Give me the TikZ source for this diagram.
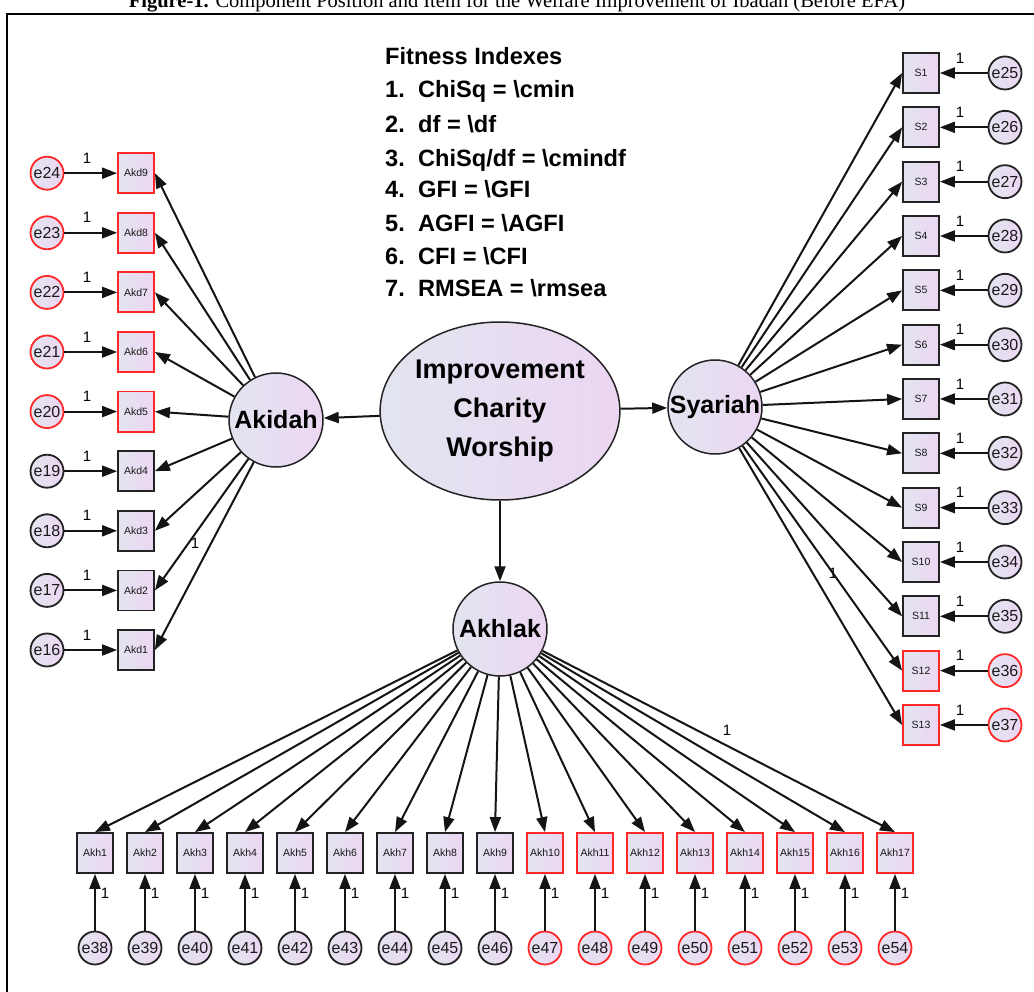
\documentclass[tikz,border=0pt]{standalone}
\usepackage{fontspec}
\setmainfont{Liberation Sans}
\newfontfamily\capfont{Liberation Serif}
\usetikzlibrary{arrows.meta,shapes.geometric}
\definecolor{gA}{RGB}{226,229,240}
\definecolor{gB}{RGB}{236,214,242}
\definecolor{edgeK}{RGB}{35,35,35}
\definecolor{edgeR}{RGB}{255,40,40}
\tikzset{
  grad/.style={left color=gA, right color=gB},
  obs/.style={rectangle, draw=edgeK, line width=1.8pt, grad, minimum width=36pt,
    minimum height=40pt, inner sep=0pt, text=black!90,
    font=\fontsize{10.5}{10.5}\selectfont},
  err/.style={circle, draw=edgeK, line width=1.8pt, grad, minimum size=33pt,
    inner sep=0pt, text=black!90, font=\fontsize{16}{16}\selectfont},
  lat/.style={circle, draw=edgeK, line width=1.5pt, grad, minimum size=94pt,
    inner sep=0pt, font=\bfseries\fontsize{25}{25}\selectfont},
  arr/.style={line width=2pt, draw=black!92, -{Triangle[length=15pt,width=11pt]}},
  one/.style={font=\fontsize{15}{15}\selectfont, inner sep=0pt},
  idx/.style={anchor=base west, inner sep=0pt, font=\bfseries\fontsize{23.6}{24}\selectfont}
}
\begin{document}
\begin{tikzpicture}[x=1pt,y=-1pt]
\useasboundingbox (0,0) rectangle (1034,992);
\fill[white] (0,0) rectangle (1034,992);

% caption and frame
\node[anchor=base, inner sep=0pt, font=\capfont\fontsize{20.5}{20.5}\selectfont] (cap) at (517,8)
  {\textbf{Figure-1.} Component Position and Item for the Welfare Improvement of Ibadan (Before EFA)};
\draw[line width=2pt] (7,1010) -- (7,14) -- (1045,14);

% fitness indexes
\node[idx] (fi0) at (385,65) {Fitness Indexes};
\node[idx] (fi1) at (385,98) {\makebox[33pt][l]{1.}ChiSq = \textbackslash cmin};
\node[idx] (fi2) at (385,133) {\makebox[33pt][l]{2.}df = \textbackslash df};
\node[idx] (fi3) at (385,167) {\makebox[33pt][l]{3.}ChiSq/df = \textbackslash cmindf};
\node[idx] (fi4) at (385,198) {\makebox[33pt][l]{4.}GFI = \textbackslash GFI};
\node[idx] (fi5) at (385,232) {\makebox[33pt][l]{5.}AGFI = \textbackslash AGFI};
\node[idx] (fi6) at (385,265) {\makebox[33pt][l]{6.}CFI = \textbackslash CFI};
\node[idx] (fi7) at (385,297) {\makebox[33pt][l]{7.}RMSEA = \textbackslash rmsea};

% latent variables
\node[ellipse, draw=edgeK, line width=1.5pt, grad, minimum width=230pt, minimum height=178pt,
  inner sep=0pt, align=center, font=\bfseries\fontsize{27}{39}\selectfont] (imp) at (500,411)
  {Improvement\\Charity\\Worship};
\node[lat] (akidah) at (276,420) {Akidah};
\node[lat] (syariah) at (715,407) {Syariah};
\node[lat] (akhlak) at (500,629) {Akhlak};

\draw[arr] (imp) -- (akidah);
\draw[arr] (imp) -- (syariah);
\draw[arr] (imp) -- (akhlak);

% Akidah indicators
\foreach \k in {1,...,9}{
  \pgfmathsetmacro\yy{650-(\k-1)*59.6}
  \pgfmathtruncatemacro\en{15+\k}
  \ifnum\k>4 \def\bc{edgeR}\else\def\bc{edgeK}\fi
  \node[obs, draw=\bc] (akd\k) at (136,\yy) {Akd\k};
  \node[err, draw=\bc] (e\en) at (47,\yy) {e\en};
  \draw[arr] (akidah) -- (akd\k.east);
  \draw[arr] (e\en) -- (akd\k.west);
  \node[one] (la\k) at (87,{\yy-15}) {1};
}
\node[one] (lakd) at (195,543) {1};

% Syariah indicators
\foreach \k in {1,...,13}{
  \pgfmathsetmacro\yy{73+(\k-1)*54.33}
  \pgfmathtruncatemacro\en{24+\k}
  \ifnum\k>11 \def\bc{edgeR}\else\def\bc{edgeK}\fi
  \node[obs, draw=\bc] (s\k) at (921,\yy) {S\k};
  \node[err, draw=\bc] (e\en) at (1005,\yy) {e\en};
  \draw[arr] (syariah) -- (s\k.west);
  \draw[arr] (e\en) -- (s\k.east);
  \node[one] (ls\k) at (960,{\yy-15}) {1};
}
\node[one] (lsy) at (833,573) {1};

% Akhlak indicators
\foreach \k in {1,...,17}{
  \pgfmathsetmacro\xx{95+(\k-1)*50}
  \pgfmathtruncatemacro\en{37+\k}
  \ifnum\k>9 \def\bc{edgeR}\else\def\bc{edgeK}\fi
  \node[obs, draw=\bc] (akh\k) at (\xx,853) {Akh\k};
  \node[err, draw=\bc] (e\en) at (\xx,948) {e\en};
  \draw[arr] (akhlak) -- (akh\k.north);
  \draw[arr] (e\en) -- (akh\k.south);
  \node[one] (lk\k) at ({\xx+10},893) {1};
}
\node[one] (lakh) at (727,730) {1};
\end{tikzpicture}
\end{document}
